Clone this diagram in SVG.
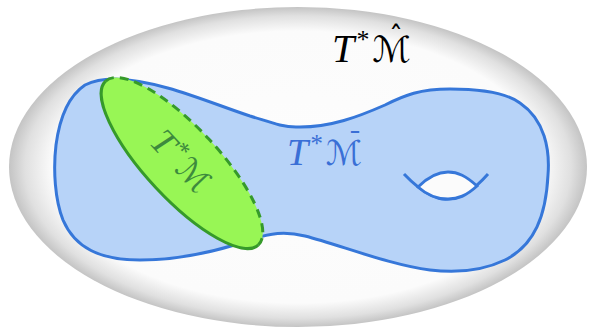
<svg xmlns="http://www.w3.org/2000/svg" width="595" height="328" viewBox="0 0 595 328">
<defs>
<radialGradient id="bg" cx="0.5" cy="0.5" r="0.5">
<stop offset="0" stop-color="#fdfdfd"/>
<stop offset="0.85" stop-color="#fbfbfb"/>
<stop offset="0.945" stop-color="#e0e0e0"/>
<stop offset="1" stop-color="#c4c4c4"/>
</radialGradient>
<style>
.lbl{font-family:"Liberation Serif","DejaVu Serif",serif;font-style:italic}
.cal{font-family:"DejaVu Sans","DejaVu Serif",serif;font-style:normal}
.acc{font-family:"DejaVu Sans","Liberation Sans",sans-serif;font-style:normal}
.blue{fill:#b7d3f8;stroke:#3677d9;stroke-width:3}
.gr{stroke:#369a2a;stroke-width:3;fill:none}
</style>
</defs>
<g id="ambient">
<ellipse cx="298" cy="167" rx="289" ry="160" fill="url(#bg)"/>
<text class="lbl" x="332" y="62" font-size="40" fill="#000">T<tspan font-size="26" dy="-14" dx="1">*</tspan><tspan class="cal" font-size="36" dy="14" dx="4">ℳ</tspan></text>
<text class="acc" x="396" y="47" font-size="28" fill="#000" text-anchor="middle">ˆ</text>
</g>
<g id="reduced">
<path class="blue" d="M 114,79 C 160,80 210,103 250,116 C 270,122 282,127 296,127 C 330,128 360,116 385,105 C 405,95 420,89 450,89 C 480,89 505,92 520,103 C 545,120 550,150 548,175 C 546,215 535,245 505,260 C 480,272 455,273 430,270 C 390,265 340,245 305,236 C 285,231 270,233 250,240 C 215,252 180,260 140,260 C 100,260 75,248 63,220 C 55,200 53,170 56,145 C 60,115 70,95 85,85 C 95,80 104,79 114,79 Z"/>
<path d="M 404,174 C 425,196 440,200 448,199 C 458,199 472,192 488,174" fill="none" stroke="#3677d9" stroke-width="3"/>
<path d="M 418,187 C 430,175 440,172 448,172 C 458,172 466,176 477,186 C 466,196 458,199 448,199 C 438,199 428,196 418,187 Z" fill="#fbfbfb" stroke="#3677d9" stroke-width="3"/>
<text class="lbl" x="287" y="165" font-size="38" fill="#3a6fd6">T<tspan font-size="25" dy="-13" dx="1">*</tspan><tspan class="cal" font-size="34" dy="13" dx="4">ℳ</tspan></text>
<text class="acc" x="355" y="152" font-size="28" fill="#3a6fd6" text-anchor="middle">¯</text>
</g>
<g id="original">
<g transform="translate(182,163) rotate(47)">
<ellipse cx="0" cy="0" rx="112" ry="36" fill="#98f655"/>
<path class="gr" d="M -112,0 A 112,36 0 0 0 112,0"/>
<path class="gr" d="M -112,0 A 112,36 0 0 1 112,0" stroke-dasharray="9,6"/>
<text class="lbl" x="-2" y="11" font-size="36" fill="#3d8a3d" text-anchor="middle">T<tspan font-size="24" dy="-12" dx="1">*</tspan><tspan class="cal" font-size="32" dy="12" dx="4">ℳ</tspan></text>
</g>
</g>
</svg>
